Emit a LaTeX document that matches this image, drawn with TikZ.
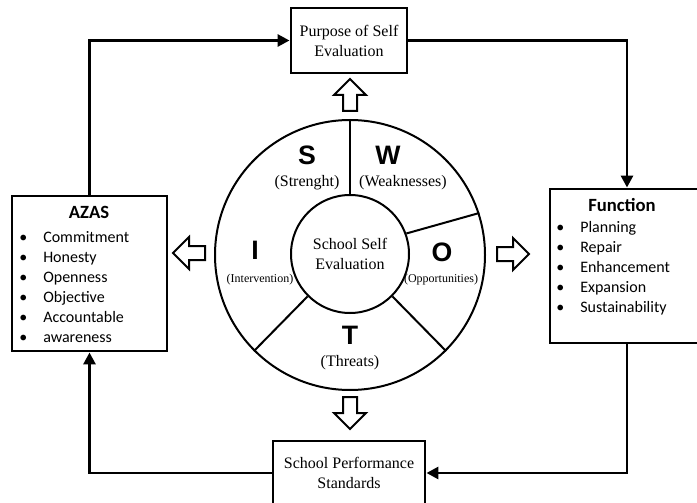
\documentclass[tikz,border=0pt]{standalone}
\usepackage{fontspec}
\setmainfont{Liberation Serif}
\newfontfamily\listfont{Carlito}
\newfontfamily\letterfont{Liberation Sans}
\usetikzlibrary{arrows.meta}

\tikzset{
  framebox/.style={draw, line width=2.2pt, inner sep=0pt, align=center, font=\fontsize{12}{15}\selectfont},
  flowline/.style={line width=2.2pt, -{Triangle[length=9pt,width=9pt]}},
  ring/.style={draw, circle, line width=1.5pt, inner sep=0pt},
  swotletter/.style={font=\letterfont\bfseries\fontsize{20}{24}\selectfont},
  swotword/.style={font=\fontsize{12}{14}\selectfont},
  swotsmall/.style={font=\fontsize{9}{11}\selectfont},
  listhead/.style={font=\listfont\bfseries\fontsize{14}{16}\selectfont},
  listitem/.style={anchor=base west, inner sep=0pt, font=\listfont\fontsize{12}{14}\selectfont},
  hollowarrow/.pic={\draw[line width=1.5pt, line join=miter] (0,-7) -- (16,-7) -- (16,-16) -- (32,0) -- (16,16) -- (16,7) -- (0,7) -- cycle;}
}

\begin{document}
\begin{tikzpicture}[x=0.75pt,y=0.75pt,yscale=-1,xscale=1]
\useasboundingbox (0,0) rectangle (697,503);

%Boxes
\node [framebox, minimum width=87pt, minimum height=48.75pt] (purpose) at (349,40.5) {Purpose of Self\\Evaluation};
\node [framebox, minimum width=114pt, minimum height=48pt] (standard) at (349,473) {School Performance\\Standards};
\node [framebox, minimum width=116.25pt, minimum height=116.25pt] (azas) at (89.5,273.5) {};
\node [framebox, minimum width=115.5pt, minimum height=115.5pt] (function) at (627,266) {};

%Connectors
\draw [flowline] (azas.north) |- (purpose.west);
\draw [flowline] (purpose.east) -| (function.north);
\draw [flowline] (function.south) |- (standard.east);
\draw [flowline] (standard.west) -| (azas.south);

%SWOT wheel
\node [ring, minimum size=202.5pt] (swot) at (350,255) {};
\node [ring, minimum size=88.5pt, align=center, font=\fontsize{12}{15}\selectfont] (core) at (350,254) {School Self\\Evaluation};
\draw [line width=1.5pt] (core.90) -- (swot.90);
\draw [line width=1.5pt] (core.20) -- (swot.18);
\draw [line width=1.5pt] (core.-45) -- (swot.-45);
\draw [line width=1.5pt] (core.-135) -- (swot.-135);

% Text Node
\node [swotletter] (s) at (307,155) {S};
\node [swotword] (sword) at (307,183) {(Strenght)};
\node [swotletter] (w) at (388,155) {W};
\node [swotword] (wword) at (403,183) {(Weaknesses)};
\node [swotletter] (o) at (442,252) {O};
\node [swotsmall] (oword) at (441,280) {(Opportunities)};
\node [swotletter] (t) at (350,335) {T};
\node [swotword] (tword) at (350,363) {(Threats)};
\node [swotletter] (i) at (255,250) {I};
\node [swotsmall] (iword) at (260,280) {(Intervention)};

%Block arrows
\pic [rotate=90] at (350,111) {hollowarrow};
\pic [rotate=-90] at (350,397) {hollowarrow};
\pic [rotate=180] at (205,253) {hollowarrow};
\pic at (497,254) {hollowarrow};

% Lists
\node [listhead] (azashead) at (89,212) {AZAS};
\foreach \item [count=\n from 0] in {Commitment,Honesty,Openness,Objective,Accountable,awareness}{
  \node [listitem] (azasbullet\n) at (19,243+19.8*\n) {\textbullet};
  \node [listitem] (azasitem\n) at (43,243+19.8*\n) {\item};
}
\node [listhead] (functionhead) at (622,205) {Function};
\foreach \item [count=\n from 0] in {Planning,Repair,Enhancement,Expansion,Sustainability}{
  \node [listitem] (functionbullet\n) at (556,233+19.8*\n) {\textbullet};
  \node [listitem] (functionitem\n) at (580,233+19.8*\n) {\item};
}

\end{tikzpicture}
\end{document}
